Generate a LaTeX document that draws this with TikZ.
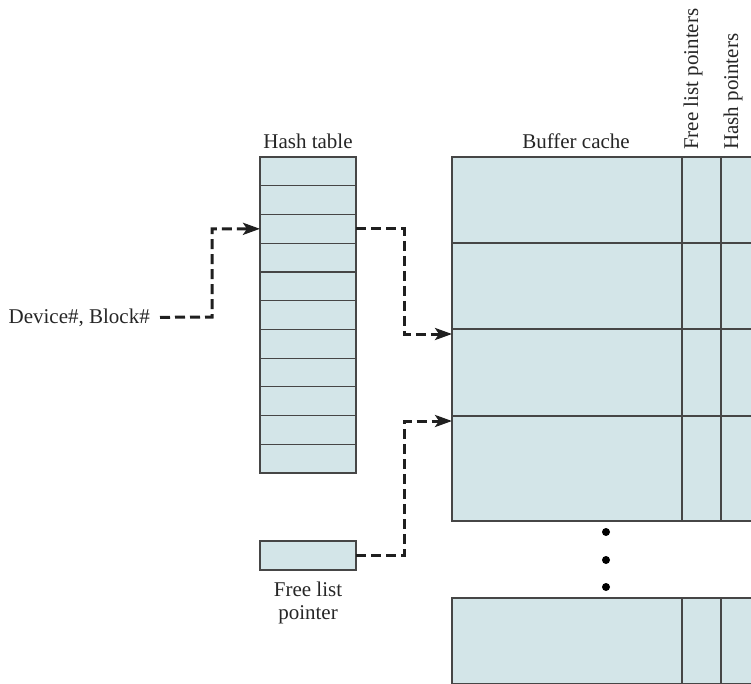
\documentclass[tikz,border=0pt]{standalone}
\usepackage{fontspec}
\setmainfont{Liberation Serif}
\usepackage{tikz}
\usetikzlibrary{arrows.meta,positioning,calc}
\definecolor{cacheFill}{RGB}{211,229,232}
\definecolor{edgeGray}{RGB}{70,70,70}

\begin{document}
\begin{tikzpicture}[x=1pt, y=-1pt,
  cell/.style={draw=edgeGray, line width=1.2pt, fill=cacheFill, inner sep=0pt, outer sep=0pt},
  hrow/.style={cell, minimum width=96pt, minimum height=28.73pt, anchor=north west},
  bufmain/.style={cell, minimum width=230pt, anchor=north west},
  bufcol/.style={cell, minimum width=39pt, anchor=west},
  lbl/.style={font=\fontsize{21}{23}\selectfont, inner sep=0pt, text=black!85},
  ptr/.style={-{Stealth[length=17pt, width=12pt, inset=4pt]}, line width=3pt, dash pattern=on 10pt off 5pt, black!88},
  blob/.style={circle, fill=black, inner sep=0pt, minimum size=8pt}
]
  \useasboundingbox (0,0) rectangle (751,683);
  \clip (0,0) rectangle (751,683);

  % hash table: 11 slots
  \foreach \i in {1,...,11}
    \node[hrow] (h\i) at (260,{157+28.73*(\i-1)}) {};
  \node[lbl, anchor=base] (htl) at (308,148) {Hash table};

  % buffer cache rows
  \foreach \i/\y/\h in {1/157/86,2/243/86,3/329/87,4/416/105,5/598/86} {
    \node[bufmain, minimum height=\h pt] (b\i) at (452,\y) {};
    \node[bufcol, minimum height=\h pt, right=0pt of b\i] (f\i) {};
    \node[bufcol, minimum height=\h pt, minimum width=40pt, right=0pt of f\i] (p\i) {};
  }
  \node[lbl, anchor=base] (bcl) at (576,148) {Buffer cache};
  \node[lbl, rotate=90, anchor=west] (flp) at (693,150) {Free list pointers};
  \node[lbl, rotate=90, anchor=west] (hp) at (733,150) {Hash pointers};

  % dots between the rows
  \foreach \i/\y in {1/532,2/560,3/587}
    \node[blob] (d\i) at (606,\y) {};

  % free list pointer
  \node[cell, minimum width=96pt, minimum height=29pt] (fl) at (308,555.5) {};
  \node[lbl, below=12pt of fl, align=center] (fll) {Free list\\pointer};

  % key lookup
  \node[lbl, anchor=base east] (dev) at (150,323) {Device\#, Block\#};
  \coordinate (k1) at (212,317);
  \coordinate (t3) at ([yshift=-5pt]b3.north west);
  \coordinate (t4) at ([yshift=-5pt]b4.north west);

  \draw[ptr] ([xshift=10pt]dev.east) -- (k1) |- (h3.west);
  \draw[ptr] (h3.east) -- ++(48,0) |- (t3);
  \draw[ptr] (fl.east) -- ++(48,0) |- (t4);
\end{tikzpicture}
\end{document}
